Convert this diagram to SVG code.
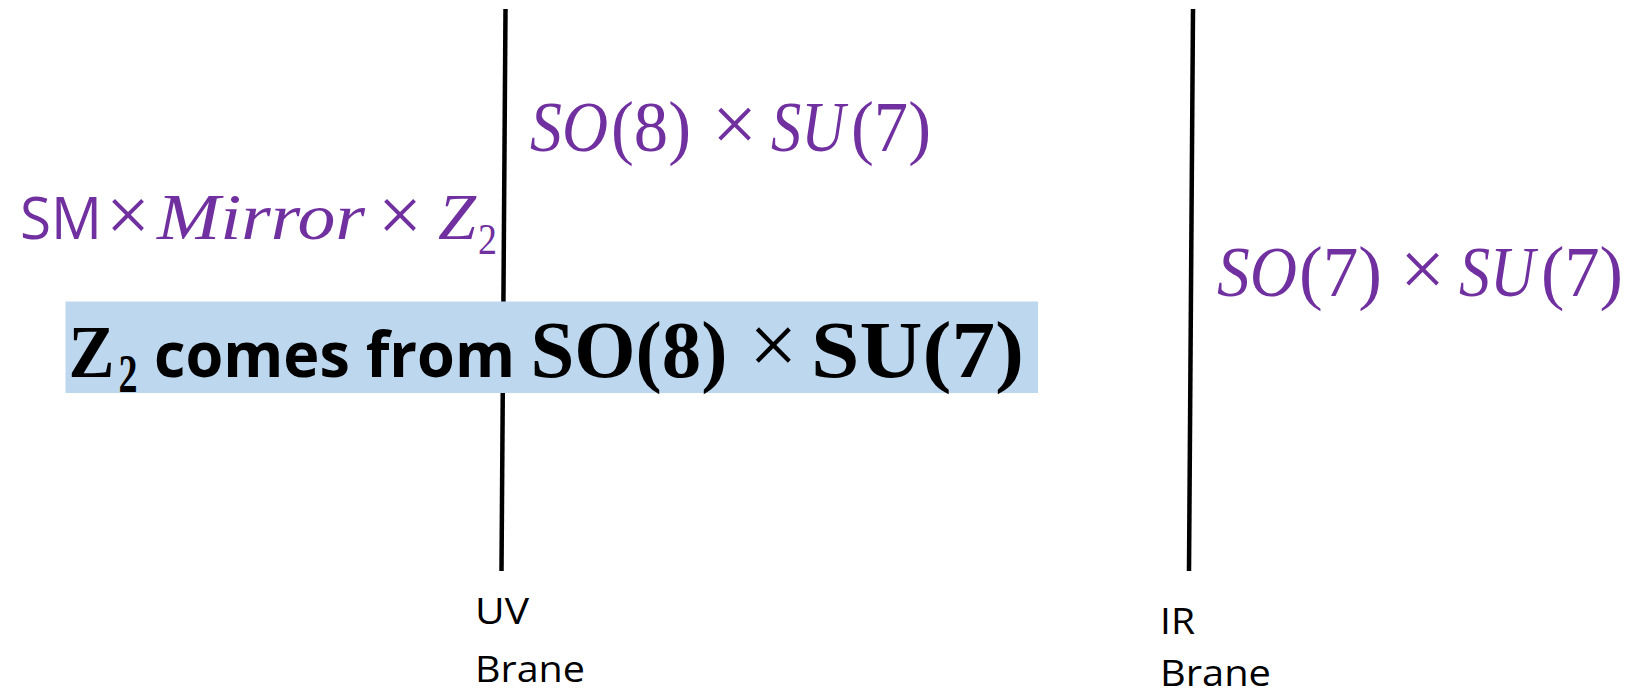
<svg xmlns="http://www.w3.org/2000/svg" width="1631" height="694" viewBox="0 0 1631 694">
<style>
.brane{stroke:#000;stroke-width:4.5;fill:none}
.math{fill:#7030A0;font-family:"Liberation Serif",serif}
.it{font-style:italic}
.lbl{fill:#000;font-family:"Open Sans","Liberation Sans",sans-serif;font-size:37px}
.bold{fill:#000;font-weight:bold;font-family:"Liberation Serif",serif}
.bsans{fill:#000;font-weight:bold;font-family:"Open Sans","Liberation Sans",sans-serif}
.psans{fill:#7030A0;font-family:"Open Sans","Liberation Sans",sans-serif}
.times{font-family:"Liberation Serif",serif}
</style>
<rect width="1631" height="694" fill="#fff"/>
<g id="connectors">
<line class="brane" x1="505.5" y1="9" x2="501.5" y2="571"/>
<line class="brane" x1="1193" y1="9" x2="1189" y2="571"/>
</g>
<g id="uv-label">
<text class="lbl" x="475" y="624" textLength="54" lengthAdjust="spacingAndGlyphs">UV</text>
<text class="lbl" x="475" y="682" textLength="110" lengthAdjust="spacingAndGlyphs">Brane</text>
</g>
<g id="ir-label">
<text class="lbl" x="1160" y="634" textLength="35" lengthAdjust="spacingAndGlyphs">IR</text>
<text class="lbl" x="1160" y="686" textLength="111" lengthAdjust="spacingAndGlyphs">Brane</text>
</g>
<g id="uv-group">
<text class="math it" x="530" y="151" font-size="72" textLength="78" lengthAdjust="spacingAndGlyphs">SO</text>
<text class="math" x="611" y="151" font-size="72" textLength="80" lengthAdjust="spacingAndGlyphs">(8)</text>
<text class="math" x="712" y="151" font-size="80">×</text>
<text class="math it" x="771" y="151" font-size="72" textLength="74" lengthAdjust="spacingAndGlyphs">SU</text>
<text class="math" x="851" y="151" font-size="72" textLength="80" lengthAdjust="spacingAndGlyphs">(7)</text>
</g>
<g id="uv-brane-symmetry">
<text class="psans" x="20" y="239" font-size="58" textLength="82" lengthAdjust="spacingAndGlyphs">SM</text>
<text class="math" x="106" y="241" font-size="78">×</text>
<text class="math it" x="157" y="239" font-size="66" textLength="208" lengthAdjust="spacingAndGlyphs">Mirror</text>
<text class="math" x="378" y="241" font-size="78">×</text>
<text class="math it" x="438" y="239" font-size="66" textLength="38" lengthAdjust="spacingAndGlyphs">Z</text>
<text class="math" x="478" y="254" font-size="44" textLength="19" lengthAdjust="spacingAndGlyphs">2</text>
</g>
<g id="ir-group">
<text class="math it" x="1217" y="296" font-size="72" textLength="80" lengthAdjust="spacingAndGlyphs">SO</text>
<text class="math" x="1299" y="296" font-size="72" textLength="83" lengthAdjust="spacingAndGlyphs">(7)</text>
<text class="math" x="1400" y="296" font-size="80">×</text>
<text class="math it" x="1459" y="296" font-size="72" textLength="76" lengthAdjust="spacingAndGlyphs">SU</text>
<text class="math" x="1541" y="296" font-size="72" textLength="82" lengthAdjust="spacingAndGlyphs">(7)</text>
</g>
<g id="note">
<rect x="65.5" y="301.5" width="972.5" height="91.5" fill="#BDD7EE"/>
<text class="bold" x="68.5" y="377" font-size="74" textLength="46" lengthAdjust="spacingAndGlyphs">Z</text>
<text class="bold" x="118.5" y="392" font-size="54" textLength="19" lengthAdjust="spacingAndGlyphs">2</text>
<text class="bsans" x="154" y="377" font-size="63" textLength="361" lengthAdjust="spacingAndGlyphs">comes from</text>
<text class="bold" x="530.5" y="377" font-size="80" textLength="197" lengthAdjust="spacingAndGlyphs">SO(8)</text>
<text class="times" x="749" y="374" font-size="86" fill="#000">×</text>
<text class="bold" x="811" y="377" font-size="80" textLength="213" lengthAdjust="spacingAndGlyphs">SU(7)</text>
</g>
</svg>
